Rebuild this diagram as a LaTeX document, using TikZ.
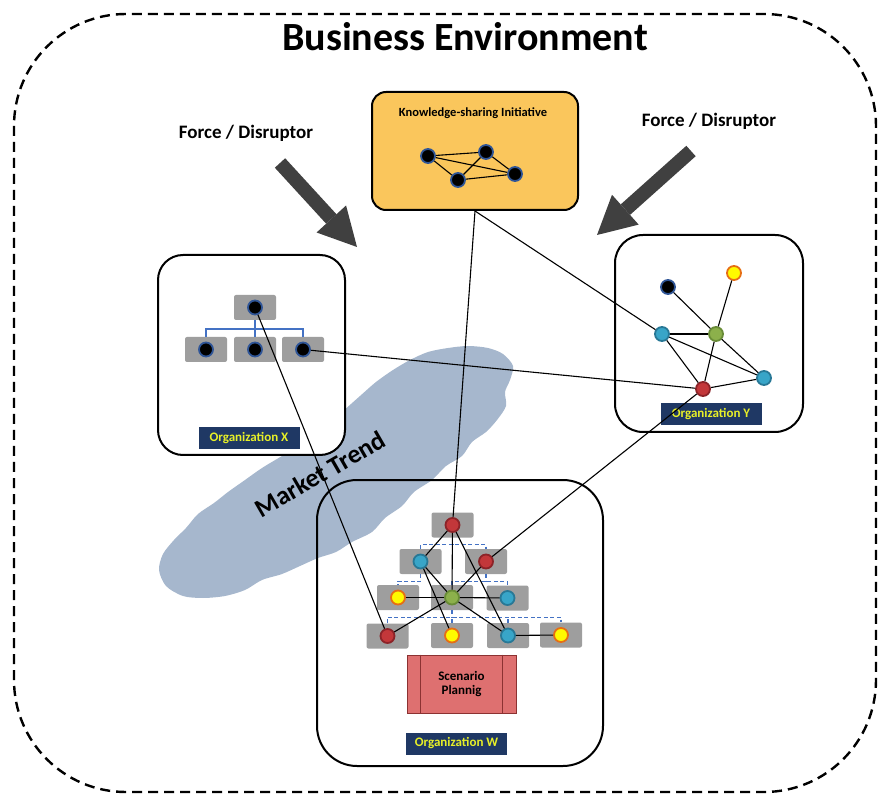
\documentclass[tikz,border=0pt]{standalone}
\usepackage{fontspec}
\setmainfont{Carlito}
\usetikzlibrary{arrows.meta}
\definecolor{arrowgray}{RGB}{64,64,64}
\definecolor{kyellow}{RGB}{250,198,92}
\definecolor{unitgray}{RGB}{158,158,158}
\definecolor{labelnavy}{RGB}{31,56,100}
\definecolor{labelyellow}{RGB}{232,240,40}
\definecolor{cloudblue}{RGB}{166,183,205}
\definecolor{scenred}{RGB}{222,112,112}
\definecolor{scenborder}{RGB}{140,50,50}
\definecolor{chartblue}{RGB}{68,114,196}
\definecolor{ringblue}{RGB}{47,85,151}
\definecolor{dotcyan}{RGB}{56,165,200}
\definecolor{ringcyan}{RGB}{40,120,150}
\definecolor{dotred}{RGB}{195,55,58}
\definecolor{ringred}{RGB}{140,35,40}
\definecolor{dotgreen}{RGB}{140,176,75}
\definecolor{ringgreen}{RGB}{105,140,55}
\definecolor{dotyellow}{RGB}{255,250,0}
\definecolor{ringorange}{RGB}{230,110,20}
\begin{document}
\begin{tikzpicture}[x=1pt,y=-1pt,
    orgbox/.style={draw=black,line width=2pt,inner sep=0pt},
    unitbox/.style={fill=unitgray,rounded corners=2pt,minimum width=42pt,minimum height=25pt,inner sep=0pt},
    orglabel/.style={fill=labelnavy,text=labelyellow,font=\bfseries\fontsize{13}{15}\selectfont,minimum width=101pt,minimum height=22pt,inner sep=0pt},
    member/.style={circle,line width=1.8pt,minimum size=14pt,inner sep=0pt},
    memberblack/.style={member,fill=black,draw=ringblue},
    membercyan/.style={member,fill=dotcyan,draw=ringcyan},
    memberred/.style={member,fill=dotred,draw=ringred},
    membergreen/.style={member,fill=dotgreen,draw=ringgreen},
    memberyellow/.style={member,fill=dotyellow,draw=ringorange},
    tie/.style={black,line width=1.1pt},
    chartline/.style={draw=chartblue,line width=1.5pt},
    chartdash/.style={draw=chartblue,line width=1.2pt,dash pattern=on 4pt off 2.5pt},
    forcearrow/.style={draw=arrowgray,line width=14pt,-{Triangle[length=38pt,width=40pt,line width=0pt]}},
    forcelabel/.style={font=\bfseries\fontsize{19}{22}\selectfont,anchor=base}]
  \useasboundingbox (0,0) rectangle (879,794);
  \draw[line width=2.4pt,dash pattern=on 10pt off 6pt,rounded corners=112pt]
    (14,14) rectangle (876,792);
  \node[font=\bfseries\fontsize{40}{42}\selectfont] (title) at (465,37) {Business Environment};
  % market trend cloud
  \fill[cloudblue] plot[smooth cycle] coordinates {
    (393,370) (410,360) (428,352) (448,348) (468,346) (488,348) (503,354)
    (513,366) (510,380) (505,392) (506,406) (497,420) (486,432) (472,442)
    (462,456) (446,466) (432,480) (414,492) (402,506) (385,518) (372,532)
    (352,542) (336,552) (318,558) (300,566) (282,574) (262,580) (245,590)
    (225,596) (203,598) (183,596) (166,586) (159,570) (163,554) (174,540)
    (186,528) (198,514) (214,503) (228,492) (245,480) (262,468) (282,456)
    (302,444) (322,430) (342,412) (360,396) (376,382)};
  \node[rotate=30,font=\bfseries\fontsize{26}{28}\selectfont] (trend) at (320,474) {Market Trend};
  % forces
  \node[forcelabel] (forceL) at (246,139) {Force / Disruptor};
  \node[forcelabel] (forceR) at (709,127) {Force / Disruptor};
  \coordinate (lefttail) at (280,163);
  \coordinate (lefttip) at (357,247);
  \coordinate (righttail) at (691,151);
  \coordinate (righttip) at (597,235);
  \draw[forcearrow] (lefttail) -- (lefttip);
  \draw[forcearrow] (righttail) -- (righttip);
  % knowledge-sharing initiative
  \node[orgbox,fill=kyellow,rounded corners=14pt,minimum width=206pt,minimum height=118pt] (kbox) at (475,151) {};
  \node[font=\bfseries\fontsize{12.5}{14}\selectfont,anchor=base] (ktitle) at (473,117) {Knowledge-sharing Initiative};
  \node[memberblack] (k1) at (428,156) {};
  \node[memberblack] (k2) at (486,152) {};
  \node[memberblack] (k3) at (458,180) {};
  \node[memberblack] (k4) at (515,174) {};
  \foreach \a/\b in {k1/k2,k1/k3,k1/k4,k2/k3,k2/k4,k3/k4}
    \draw[tie] (\a) -- (\b);
  % organization X
  \node[orgbox,fill=white,rounded corners=25pt,minimum width=187pt,minimum height=200pt] (orgX) at (251.5,355) {};
  \node[unitbox] (xt) at (255,307.5) {};
  \node[unitbox] (xb1) at (206,349.5) {};
  \node[unitbox] (xb2) at (255,349.5) {};
  \node[unitbox] (xb3) at (303,349.5) {};
  \draw[chartline] (xt.south) -- ++(0,9) coordinate (xbus);
  \draw[chartline] (xb1.north) |- (xbus) -| (xb3.north);
  \draw[chartline] (xb2.north) -- (xbus);
  \node[memberblack] (xt1) at (xt) {};
  \node[memberblack] (xb1m) at (xb1) {};
  \node[memberblack] (xb2m) at (xb2) {};
  \node[memberblack] (xb3m) at (xb3) {};
  \node[orglabel] (labX) at (249,438) {Organization X};
  % organization Y
  \node[orgbox,rounded corners=28pt,minimum width=188pt,minimum height=197pt] (orgY) at (709,333.5) {};
  \node[memberblack] (ya) at (668,287) {};
  \node[memberyellow] (yb) at (734,273) {};
  \node[membercyan] (yc) at (662,334) {};
  \node[membergreen] (yd) at (716,334) {};
  \node[membercyan] (ye) at (764,378) {};
  \node[memberred] (yf) at (703,389) {};
  \foreach \a/\b in {ya/yd,yb/yd,yc/yd,yc/yf,yc/ye,yd/yf,yd/ye,yf/ye}
    \draw[tie] (\a) -- (\b);
  \node[orglabel] (labY) at (711,414) {Organization Y};
  % organization W
  \node[orgbox,rounded corners=40pt,minimum width=286pt,minimum height=286pt] (orgW) at (460,623) {};
  \node[unitbox] (w1) at (452.5,525) {};
  \node[unitbox] (w2a) at (420.5,561.5) {};
  \node[unitbox] (w2b) at (486,561.5) {};
  \node[unitbox] (w3a) at (398,597.5) {};
  \node[unitbox] (w3b) at (452,597.5) {};
  \node[unitbox] (w3c) at (507.5,598) {};
  \node[unitbox] (w4a) at (387.5,636) {};
  \node[unitbox] (w4b) at (452,635.5) {};
  \node[unitbox] (w4c) at (508,635.5) {};
  \node[unitbox] (w4d) at (561,635) {};
  \draw[chartdash] (w1.south) -- ++(0,7) coordinate (bus1);
  \draw[chartdash] (w2a.north) |- (bus1) -| (w2b.north);
  \draw[chartdash] (w2a.south) -- ++(0,7) -| (w3a.north);
  \draw[chartdash] (w2b.south) -- ++(0,7) coordinate (bus2);
  \draw[chartdash] (w3b.north) |- (bus2) -| (w3c.north);
  \draw[chartdash] (w3b.south) -- ++(0,7) coordinate (bus3);
  \draw[chartdash] (w4a.north) |- (bus3) -| (w4d.north);
  \draw[chartdash] (w4b.north) -- (w4b.north |- bus3);
  \draw[chartdash] (w4c.north) -- (w4c.north |- bus3);
  \node[memberred] (c1) at (w1) {};
  \node[membercyan] (c2a) at (w2a) {};
  \node[memberred] (c2b) at (w2b) {};
  \node[memberyellow] (c3a) at (w3a) {};
  \node[membergreen] (c3b) at (w3b) {};
  \node[membercyan] (c3c) at (w3c) {};
  \node[memberred] (c4a) at (w4a) {};
  \node[memberyellow] (c4b) at (w4b) {};
  \node[membercyan] (c4c) at (w4c) {};
  \node[memberyellow] (c4d) at (w4d) {};
  \foreach \a/\b in {c1/c2a,c1/c3b,c1/c4c,c2a/c3b,c2a/c4b,c2b/c3b,c3a/c3b,c3b/c3c,c3b/c4a,c3b/c4c,c4c/c4d}
    \draw[tie] (\a) -- (\b);
  \node[draw=scenborder,fill=scenred,line width=1pt,minimum width=109pt,minimum height=58pt,inner sep=0pt,
    align=center,font=\bfseries\fontsize{13}{14.5}\selectfont] (scen) at (461.5,684) {Scenario\\Plannig};
  \draw[scenborder,line width=1pt] ([xshift=14pt]scen.north west) -- ([xshift=14pt]scen.south west);
  \draw[scenborder,line width=1pt] ([xshift=-14pt]scen.north east) -- ([xshift=-14pt]scen.south east);
  \node[orglabel] (labW) at (456.5,743.5) {Organization W};
  % links between the parties
  \draw[tie] (kbox.south) -- (c1);
  \draw[tie] (kbox.south) -- (yc);
  \draw[tie] (xt1) -- (c4a);
  \draw[tie] (xb3m) -- (yf);
  \draw[tie] (yf) -- (c2b);
\end{tikzpicture}
\end{document}
